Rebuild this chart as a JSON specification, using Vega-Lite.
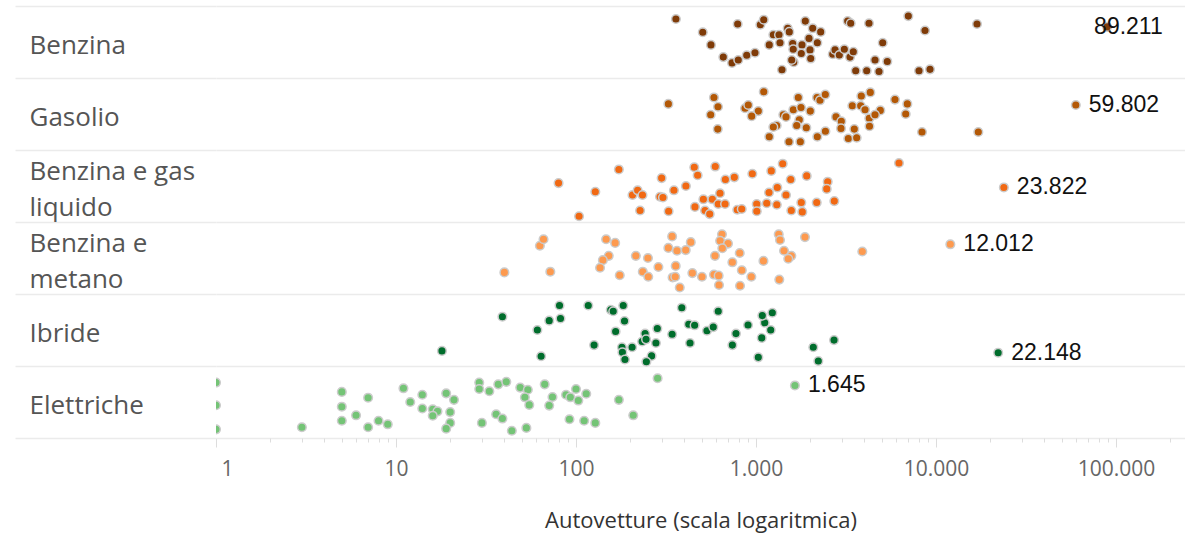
{
"$schema": "https://vega.github.io/schema/vega-lite/v6.json",
"autosize": {"type": "none"},
"padding": {"left": 216, "top": 6, "right": 0, "bottom": 96},
"width": 969,
"height": 432,
"background": "white",
"config": {
  "view": {"stroke": null},
  "locale": {"number": {"decimal": ",", "thousands": ".", "grouping": [3], "currency": ["€", ""]}}
},
"datasets": {
"d": [
{"c":"Benzina","v":359,"j":0.18},{"c":"Benzina","v":506,"j":0.365},{"c":"Benzina","v":562,"j":0.54},{"c":"Benzina","v":791,"j":0.25},{"c":"Benzina","v":658,"j":0.71},{"c":"Benzina","v":736,"j":0.79},{"c":"Benzina","v":797,"j":0.75},{"c":"Benzina","v":888,"j":0.685},{"c":"Benzina","v":987,"j":0.65},{"c":"Benzina","v":1057,"j":0.26},{"c":"Benzina","v":1104,"j":0.19},{"c":"Benzina","v":1185,"j":0.54},{"c":"Benzina","v":1248,"j":0.40},{"c":"Benzina","v":1342,"j":0.40},{"c":"Benzina","v":1359,"j":0.51},{"c":"Benzina","v":1500,"j":0.31},{"c":"Benzina","v":1531,"j":0.36},{"c":"Benzina","v":1394,"j":0.885},{"c":"Benzina","v":1599,"j":0.52},{"c":"Benzina","v":1610,"j":0.60},{"c":"Benzina","v":1620,"j":0.78},{"c":"Benzina","v":1579,"j":0.75},{"c":"Benzina","v":1801,"j":0.54},{"c":"Benzina","v":1785,"j":0.66},{"c":"Benzina","v":1879,"j":0.21},{"c":"Benzina","v":1970,"j":0.45},{"c":"Benzina","v":2065,"j":0.31},{"c":"Benzina","v":1995,"j":0.61},{"c":"Benzina","v":2013,"j":0.73},{"c":"Benzina","v":2191,"j":0.51},{"c":"Benzina","v":2287,"j":0.36},{"c":"Benzina","v":2668,"j":0.67},{"c":"Benzina","v":2748,"j":0.61},{"c":"Benzina","v":2903,"j":0.68},{"c":"Benzina","v":3095,"j":0.60},{"c":"Benzina","v":3231,"j":0.21},{"c":"Benzina","v":3358,"j":0.24},{"c":"Benzina","v":3328,"j":0.71},{"c":"Benzina","v":3472,"j":0.635},{"c":"Benzina","v":3580,"j":0.90},{"c":"Benzina","v":4244,"j":0.24},{"c":"Benzina","v":4121,"j":0.90},{"c":"Benzina","v":4583,"j":0.75},{"c":"Benzina","v":4824,"j":0.91},{"c":"Benzina","v":5057,"j":0.51},{"c":"Benzina","v":5362,"j":0.77},{"c":"Benzina","v":7018,"j":0.14},{"c":"Benzina","v":8688,"j":0.34},{"c":"Benzina","v":8045,"j":0.90},{"c":"Benzina","v":9261,"j":0.88},{"c":"Benzina","v":16897,"j":0.25},{"c":"Benzina","v":89211,"j":0.29},
{"c":"Gasolio","v":326,"j":0.36},{"c":"Gasolio","v":584,"j":0.27},{"c":"Gasolio","v":615,"j":0.40},{"c":"Gasolio","v":560,"j":0.51},{"c":"Gasolio","v":613,"j":0.71},{"c":"Gasolio","v":1104,"j":0.19},{"c":"Gasolio","v":869,"j":0.42},{"c":"Gasolio","v":906,"j":0.375},{"c":"Gasolio","v":1030,"j":0.46},{"c":"Gasolio","v":946,"j":0.53},{"c":"Gasolio","v":1185,"j":0.815},{"c":"Gasolio","v":1303,"j":0.66},{"c":"Gasolio","v":1248,"j":0.68},{"c":"Gasolio","v":1418,"j":0.51},{"c":"Gasolio","v":1468,"j":0.54},{"c":"Gasolio","v":1612,"j":0.44},{"c":"Gasolio","v":1718,"j":0.27},{"c":"Gasolio","v":1778,"j":0.41},{"c":"Gasolio","v":1740,"j":0.58},{"c":"Gasolio","v":1683,"j":0.66},{"c":"Gasolio","v":1903,"j":0.69},{"c":"Gasolio","v":1525,"j":0.885},{"c":"Gasolio","v":1763,"j":0.885},{"c":"Gasolio","v":2003,"j":0.46},{"c":"Gasolio","v":2182,"j":0.27},{"c":"Gasolio","v":2267,"j":0.31},{"c":"Gasolio","v":2427,"j":0.23},{"c":"Gasolio","v":2191,"j":0.815},{"c":"Gasolio","v":2430,"j":0.74},{"c":"Gasolio","v":2783,"j":0.54},{"c":"Gasolio","v":2978,"j":0.60},{"c":"Gasolio","v":2966,"j":0.70},{"c":"Gasolio","v":3257,"j":0.84},{"c":"Gasolio","v":3625,"j":0.83},{"c":"Gasolio","v":3516,"j":0.71},{"c":"Gasolio","v":3428,"j":0.385},{"c":"Gasolio","v":3846,"j":0.25},{"c":"Gasolio","v":4315,"j":0.20},{"c":"Gasolio","v":3816,"j":0.385},{"c":"Gasolio","v":4033,"j":0.44},{"c":"Gasolio","v":4260,"j":0.56},{"c":"Gasolio","v":4905,"j":0.45},{"c":"Gasolio","v":4583,"j":0.51},{"c":"Gasolio","v":4270,"j":0.67},{"c":"Gasolio","v":5918,"j":0.30},{"c":"Gasolio","v":6929,"j":0.36},{"c":"Gasolio","v":6788,"j":0.50},{"c":"Gasolio","v":8360,"j":0.75},{"c":"Gasolio","v":17180,"j":0.75},{"c":"Gasolio","v":59802,"j":0.375},
{"c":"Benzina e gas liquido","v":80,"j":0.46},{"c":"Benzina e gas liquido","v":104,"j":0.92},{"c":"Benzina e gas liquido","v":128,"j":0.58},{"c":"Benzina e gas liquido","v":173,"j":0.27},{"c":"Benzina e gas liquido","v":206,"j":0.625},{"c":"Benzina e gas liquido","v":220,"j":0.56},{"c":"Benzina e gas liquido","v":234,"j":0.625},{"c":"Benzina e gas liquido","v":227,"j":0.84},{"c":"Benzina e gas liquido","v":299,"j":0.39},{"c":"Benzina e gas liquido","v":293,"j":0.65},{"c":"Benzina e gas liquido","v":304,"j":0.66},{"c":"Benzina e gas liquido","v":327,"j":0.85},{"c":"Benzina e gas liquido","v":350,"j":0.56},{"c":"Benzina e gas liquido","v":408,"j":0.50},{"c":"Benzina e gas liquido","v":454,"j":0.24},{"c":"Benzina e gas liquido","v":474,"j":0.35},{"c":"Benzina e gas liquido","v":458,"j":0.79},{"c":"Benzina e gas liquido","v":510,"j":0.685},{"c":"Benzina e gas liquido","v":521,"j":0.84},{"c":"Benzina e gas liquido","v":553,"j":0.89},{"c":"Benzina e gas liquido","v":572,"j":0.685},{"c":"Benzina e gas liquido","v":594,"j":0.23},{"c":"Benzina e gas liquido","v":631,"j":0.60},{"c":"Benzina e gas liquido","v":617,"j":0.75},{"c":"Benzina e gas liquido","v":673,"j":0.75},{"c":"Benzina e gas liquido","v":676,"j":0.41},{"c":"Benzina e gas liquido","v":758,"j":0.38},{"c":"Benzina e gas liquido","v":787,"j":0.83},{"c":"Benzina e gas liquido","v":833,"j":0.82},{"c":"Benzina e gas liquido","v":954,"j":0.33},{"c":"Benzina e gas liquido","v":1009,"j":0.75},{"c":"Benzina e gas liquido","v":1010,"j":0.85},{"c":"Benzina e gas liquido","v":1147,"j":0.74},{"c":"Benzina e gas liquido","v":1181,"j":0.59},{"c":"Benzina e gas liquido","v":1216,"j":0.29},{"c":"Benzina e gas liquido","v":1313,"j":0.52},{"c":"Benzina e gas liquido","v":1305,"j":0.76},{"c":"Benzina e gas liquido","v":1407,"j":0.19},{"c":"Benzina e gas liquido","v":1468,"j":0.625},{"c":"Benzina e gas liquido","v":1559,"j":0.41},{"c":"Benzina e gas liquido","v":1571,"j":0.84},{"c":"Benzina e gas liquido","v":1785,"j":0.73},{"c":"Benzina e gas liquido","v":1808,"j":0.86},{"c":"Benzina e gas liquido","v":1913,"j":0.36},{"c":"Benzina e gas liquido","v":2174,"j":0.73},{"c":"Benzina e gas liquido","v":2502,"j":0.44},{"c":"Benzina e gas liquido","v":2471,"j":0.54},{"c":"Benzina e gas liquido","v":2723,"j":0.71},{"c":"Benzina e gas liquido","v":6228,"j":0.18},{"c":"Benzina e gas liquido","v":23822,"j":0.52},
{"c":"Benzina e metano","v":40,"j":0.70},{"c":"Benzina e metano","v":63,"j":0.33},{"c":"Benzina e metano","v":66,"j":0.24},{"c":"Benzina e metano","v":72,"j":0.69},{"c":"Benzina e metano","v":147,"j":0.24},{"c":"Benzina e metano","v":165,"j":0.29},{"c":"Benzina e metano","v":152,"j":0.47},{"c":"Benzina e metano","v":141,"j":0.53},{"c":"Benzina e metano","v":136,"j":0.635},{"c":"Benzina e metano","v":175,"j":0.74},{"c":"Benzina e metano","v":215,"j":0.47},{"c":"Benzina e metano","v":235,"j":0.69},{"c":"Benzina e metano","v":252,"j":0.76},{"c":"Benzina e metano","v":251,"j":0.50},{"c":"Benzina e metano","v":287,"j":0.625},{"c":"Benzina e metano","v":342,"j":0.20},{"c":"Benzina e metano","v":326,"j":0.36},{"c":"Benzina e metano","v":364,"j":0.40},{"c":"Benzina e metano","v":407,"j":0.39},{"c":"Benzina e metano","v":434,"j":0.28},{"c":"Benzina e metano","v":358,"j":0.61},{"c":"Benzina e metano","v":344,"j":0.77},{"c":"Benzina e metano","v":356,"j":0.76},{"c":"Benzina e metano","v":377,"j":0.91},{"c":"Benzina e metano","v":443,"j":0.71},{"c":"Benzina e metano","v":501,"j":0.76},{"c":"Benzina e metano","v":592,"j":0.47},{"c":"Benzina e metano","v":584,"j":0.73},{"c":"Benzina e metano","v":620,"j":0.745},{"c":"Benzina e metano","v":623,"j":0.875},{"c":"Benzina e metano","v":647,"j":0.17},{"c":"Benzina e metano","v":632,"j":0.26},{"c":"Benzina e metano","v":699,"j":0.30},{"c":"Benzina e metano","v":650,"j":0.365},{"c":"Benzina e metano","v":739,"j":0.56},{"c":"Benzina e metano","v":812,"j":0.43},{"c":"Benzina e metano","v":834,"j":0.67},{"c":"Benzina e metano","v":815,"j":0.885},{"c":"Benzina e metano","v":942,"j":0.76},{"c":"Benzina e metano","v":1100,"j":0.54},{"c":"Benzina e metano","v":1337,"j":0.17},{"c":"Benzina e metano","v":1359,"j":0.25},{"c":"Benzina e metano","v":1431,"j":0.40},{"c":"Benzina e metano","v":1571,"j":0.47},{"c":"Benzina e metano","v":1511,"j":0.51},{"c":"Benzina e metano","v":1347,"j":0.80},{"c":"Benzina e metano","v":1871,"j":0.21},{"c":"Benzina e metano","v":3895,"j":0.41},{"c":"Benzina e metano","v":12012,"j":0.31},
{"c":"Ibride","v":18,"j":0.79},{"c":"Ibride","v":39,"j":0.315},{"c":"Ibride","v":61,"j":0.50},{"c":"Ibride","v":64,"j":0.865},{"c":"Ibride","v":71,"j":0.37},{"c":"Ibride","v":81,"j":0.16},{"c":"Ibride","v":82,"j":0.34},{"c":"Ibride","v":117,"j":0.16},{"c":"Ibride","v":126,"j":0.71},{"c":"Ibride","v":156,"j":0.22},{"c":"Ibride","v":161,"j":0.24},{"c":"Ibride","v":183,"j":0.16},{"c":"Ibride","v":186,"j":0.375},{"c":"Ibride","v":166,"j":0.52},{"c":"Ibride","v":180,"j":0.74},{"c":"Ibride","v":181,"j":0.81},{"c":"Ibride","v":205,"j":0.74},{"c":"Ibride","v":187,"j":0.91},{"c":"Ibride","v":233,"j":0.66},{"c":"Ibride","v":242,"j":0.55},{"c":"Ibride","v":245,"j":0.63},{"c":"Ibride","v":278,"j":0.68},{"c":"Ibride","v":283,"j":0.48},{"c":"Ibride","v":263,"j":0.86},{"c":"Ibride","v":246,"j":0.94},{"c":"Ibride","v":342,"j":0.56},{"c":"Ibride","v":387,"j":0.19},{"c":"Ibride","v":423,"j":0.42},{"c":"Ibride","v":456,"j":0.435},{"c":"Ibride","v":430,"j":0.68},{"c":"Ibride","v":534,"j":0.51},{"c":"Ibride","v":579,"j":0.46},{"c":"Ibride","v":617,"j":0.24},{"c":"Ibride","v":739,"j":0.71},{"c":"Ibride","v":774,"j":0.55},{"c":"Ibride","v":903,"j":0.43},{"c":"Ibride","v":1030,"j":0.88},{"c":"Ibride","v":1076,"j":0.61},{"c":"Ibride","v":1118,"j":0.40},{"c":"Ibride","v":1084,"j":0.30},{"c":"Ibride","v":1232,"j":0.26},{"c":"Ibride","v":1207,"j":0.50},{"c":"Ibride","v":2081,"j":0.74},{"c":"Ibride","v":2219,"j":0.93},{"c":"Ibride","v":2713,"j":0.64},{"c":"Ibride","v":22148,"j":0.815},
{"c":"Elettriche","v":1,"j":0.23},{"c":"Elettriche","v":1,"j":0.545},{"c":"Elettriche","v":1,"j":0.88},{"c":"Elettriche","v":3,"j":0.85},{"c":"Elettriche","v":5,"j":0.36},{"c":"Elettriche","v":5,"j":0.565},{"c":"Elettriche","v":5,"j":0.76},{"c":"Elettriche","v":6,"j":0.685},{"c":"Elettriche","v":7,"j":0.44},{"c":"Elettriche","v":7,"j":0.85},{"c":"Elettriche","v":8,"j":0.76},{"c":"Elettriche","v":9,"j":0.81},{"c":"Elettriche","v":11,"j":0.31},{"c":"Elettriche","v":12,"j":0.50},{"c":"Elettriche","v":14,"j":0.40},{"c":"Elettriche","v":14,"j":0.59},{"c":"Elettriche","v":16,"j":0.60},{"c":"Elettriche","v":17,"j":0.63},{"c":"Elettriche","v":16,"j":0.69},{"c":"Elettriche","v":19,"j":0.38},{"c":"Elettriche","v":21,"j":0.47},{"c":"Elettriche","v":20,"j":0.64},{"c":"Elettriche","v":20,"j":0.79},{"c":"Elettriche","v":19,"j":0.87},{"c":"Elettriche","v":29,"j":0.23},{"c":"Elettriche","v":29,"j":0.32},{"c":"Elettriche","v":33,"j":0.35},{"c":"Elettriche","v":37,"j":0.255},{"c":"Elettriche","v":41,"j":0.22},{"c":"Elettriche","v":49,"j":0.30},{"c":"Elettriche","v":54,"j":0.33},{"c":"Elettriche","v":52,"j":0.435},{"c":"Elettriche","v":55,"j":0.54},{"c":"Elettriche","v":36,"j":0.67},{"c":"Elettriche","v":39,"j":0.73},{"c":"Elettriche","v":30,"j":0.79},{"c":"Elettriche","v":44,"j":0.90},{"c":"Elettriche","v":53,"j":0.86},{"c":"Elettriche","v":67,"j":0.255},{"c":"Elettriche","v":74,"j":0.43},{"c":"Elettriche","v":71,"j":0.55},{"c":"Elettriche","v":88,"j":0.40},{"c":"Elettriche","v":100,"j":0.32},{"c":"Elettriche","v":93,"j":0.435},{"c":"Elettriche","v":103,"j":0.48},{"c":"Elettriche","v":114,"j":0.385},{"c":"Elettriche","v":92,"j":0.74},{"c":"Elettriche","v":111,"j":0.76},{"c":"Elettriche","v":128,"j":0.79},{"c":"Elettriche","v":173,"j":0.47},{"c":"Elettriche","v":208,"j":0.685},{"c":"Elettriche","v":284,"j":0.17},{"c":"Elettriche","v":1645,"j":0.27}
]
},
"data": {"name": "d"},
"encoding": {
  "x": {
    "field": "v", "type": "quantitative",
    "scale": {"type": "log", "domain": [1, 241700], "nice": false},
    "axis": {
      "title": "Autovetture (scala logaritmica)",
      "values": [1,2,3,4,5,6,7,8,9,10,20,30,40,50,60,70,80,90,100,200,300,400,500,600,700,800,900,1000,2000,3000,4000,5000,6000,7000,8000,9000,10000,20000,30000,40000,50000,60000,70000,80000,90000,100000,200000],
      "format": ",d",
      "labelExpr": "indexof([1,10,100,1000,10000,100000], datum.value) >= 0 ? datum.label : ''",
      "tickSize": {"condition": {"test": "indexof([1,10,100,1000,10000,100000], datum.value) >= 0", "value": 9}, "value": 4},
      "tickColor": "#dddddd",
      "tickWidth": 1,
      "domain": false,
      "grid": false,
      "labelFont": "Open Sans",
      "labelFontSize": 21,
      "labelColor": "#666666",
      "labelPadding": 11,
      "labelFlush": true,
      "labelFlushOffset": -5,
      "labelOverlap": false,
      "labelBound": false,
      "titleFont": "Open Sans",
      "titleFontSize": 22,
      "titleFontWeight": "normal",
      "titleColor": "#333333",
      "titlePadding": 31
    }
  },
  "y": {
    "field": "c", "type": "nominal",
    "sort": ["Benzina", "Gasolio", "Benzina e gas liquido", "Benzina e metano", "Ibride", "Elettriche"],
    "scale": {"paddingInner": 0, "paddingOuter": 0},
    "axis": {
      "title": null,
      "labelExpr": "datum.value == 'Benzina e gas liquido' ? ['Benzina e gas', 'liquido'] : datum.value == 'Benzina e metano' ? ['Benzina e', 'metano'] : datum.value",
      "labelAlign": "left",
      "labelBaseline": "middle",
      "labelOffset": {"condition": {"test": "datum.value == 'Benzina e gas liquido' || datum.value == 'Benzina e metano'", "value": -15}, "value": 3},
      "labelPadding": -14,
      "labelFont": "Open Sans",
      "labelFontSize": 26,
      "labelColor": "#555555",
      "labelLineHeight": 36,
      "tickBand": "extent",
      "tickSize": 201,
      "tickColor": "#ebebeb",
      "tickWidth": 1.5,
      "grid": true,
      "gridColor": "#ebebeb",
      "gridWidth": 1.5,
      "domain": false
    }
  },
  "yOffset": {"field": "j", "type": "quantitative", "scale": {"domain": [0, 1]}}
},
"layer": [
  {
    "mark": {"type": "circle", "size": 74, "stroke": "#cccccc", "strokeWidth": 1.5, "opacity": 1, "clip": true},
    "encoding": {
      "color": {
        "field": "c", "type": "nominal",
        "scale": {
          "domain": ["Benzina", "Gasolio", "Benzina e gas liquido", "Benzina e metano", "Ibride", "Elettriche"],
          "range": ["#7f3b08", "#b35806", "#f16913", "#fd9a4f", "#006d2c", "#74c476"]
        },
        "legend": null
      }
    }
  },
  {
    "transform": [
      {"joinaggregate": [{"op": "max", "field": "v", "as": "mx"}], "groupby": ["c"]},
      {"filter": "datum.v == datum.mx"}
    ],
    "mark": {"type": "text", "align": "left", "baseline": "middle", "dx": {"expr": "datum.v > 80000 ? -13 : 13"}, "font": "Liberation Sans", "fontSize": 23, "color": "#111111"},
    "encoding": {"text": {"field": "v", "type": "quantitative", "format": ",d"}}
  }
]
}
